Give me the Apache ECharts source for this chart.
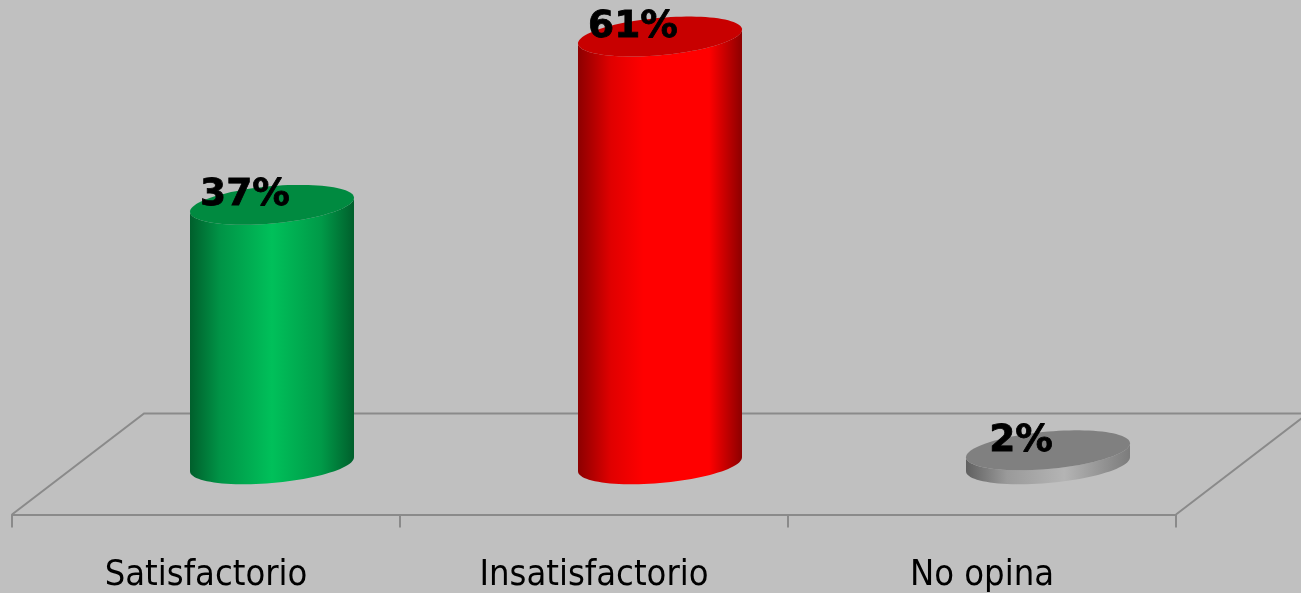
<!DOCTYPE html>
<html>
<head>
<meta charset="utf-8">
<style>html,body{margin:0;padding:0;background:#c0c0c0}#c{width:1301px;height:593px}</style>
<script src="https://cdn.jsdelivr.net/npm/echarts@6/dist/echarts.min.js"></script>
</head>
<body>
<div id="c"></div>
<script>
var categories = ['Satisfactorio', 'Insatisfactorio', 'No opina'];
var values = [37, 61, 2];

var palettes = [
  { top: '#008a40', stops: [[0, '#005f2c'], [0.18, '#009346'], [0.5, '#00c05a'], [0.8, '#009a48'], [1, '#005f2c']] },
  { top: '#c80000', stops: [[0, '#8c0000'], [0.2, '#e00000'], [0.4, '#ff0000'], [0.8, '#ff0000'], [1, '#8c0000']] },
  { top: '#808080', stops: [[0, '#606060'], [0.25, '#9a9a9a'], [0.6, '#b4b4b4'], [1, '#7c7c7c']] }
];
var depthX = 132, depthY = 101, radiusX = 82, radiusY = 18.7, shear = 0.085;

function arc(cx, cy, from, to, n) {
  var pts = [];
  for (var i = 0; i <= n; i++) {
    var t = from + (to - from) * i / n;
    pts.push([cx + radiusX * Math.cos(t), cy + radiusY * Math.sin(t) - shear * radiusX * Math.cos(t)]);
  }
  return pts;
}

function renderFloor(params, api) {
  var g = params.coordSys;
  var l = g.x, r = g.x + g.width, b = g.y + g.height;
  return {
    type: 'polyline', silent: true,
    shape: { points: [[l, b], [l + depthX, b - depthY], [r + depthX, b - depthY], [r, b]] },
    style: { stroke: '#8a8a8a', lineWidth: 2, fill: null }
  };
}

function renderBar(params, api) {
  var i = api.value(0);
  var p = palettes[i];
  var base = api.coord([i, 0]);
  var top = api.coord([i, api.value(1)]);
  var cx = base[0] + depthX / 2;
  var by = base[1] - depthY / 2 + 0.3;
  var ty = top[1] - depthY / 2 + 0.3;
  var lower = arc(cx, by, 0, Math.PI, 48);
  var upper = arc(cx, ty, Math.PI, 0, 48);
  return {
    type: 'group',
    children: [
      {
        type: 'polygon',
        shape: { points: lower.concat(upper) },
        style: { fill: new echarts.graphic.LinearGradient(0, 0, 1, 0, p.stops.map(function (s) { return { offset: s[0], color: s[1] }; })) }
      },
      {
        type: 'polygon',
        shape: { points: arc(cx, ty, 0, Math.PI * 2, 96) },
        style: { fill: p.top }
      },
      {
        type: 'text',
        style: {
          x: cx - 27, y: ty - 9.5,
          text: api.value(1) + '%',
          fill: '#000',
          stroke: '#000',
          lineWidth: 0.8,
          font: 'bold 37.5px "DejaVu Sans"',
          align: 'center', verticalAlign: 'middle'
        }
      }
    ]
  };
}

var chart = echarts.init(document.getElementById('c'), null, { renderer: 'canvas' });
chart.setOption({
  animation: false,
  backgroundColor: '#c0c0c0',
  tooltip: { show: false },
  grid: { left: 12, right: 125, top: 23.6, bottom: 78.5, containLabel: false, outerBoundsMode: 'none' },
  xAxis: {
    type: 'category',
    data: categories,
    boundaryGap: true,
    axisLine: { show: true, lineStyle: { color: '#8a8a8a', width: 2 } },
    axisTick: { show: true, alignWithLabel: false, length: 13, lineStyle: { color: '#8a8a8a', width: 2 } },
    axisLabel: { color: '#000', fontFamily: '"DejaVu Sans Condensed", "DejaVu Sans"', fontStretch: 'condensed', fontSize: 36, margin: 43, interval: 0 }
  },
  yAxis: { type: 'value', min: 0, max: 70, show: false, splitLine: { show: false } },
  series: [
    { type: 'custom', coordinateSystem: 'cartesian2d', clip: false, silent: true, z: 1, data: [[0, 0]], renderItem: renderFloor, encode: { x: 0, y: 1 } },
    { type: 'custom', coordinateSystem: 'cartesian2d', clip: false, silent: true, z: 3,
      data: values.map(function (v, i) { return [i, v]; }), renderItem: renderBar, encode: { x: 0, y: 1 } }
  ]
});
</script>
</body>
</html>
